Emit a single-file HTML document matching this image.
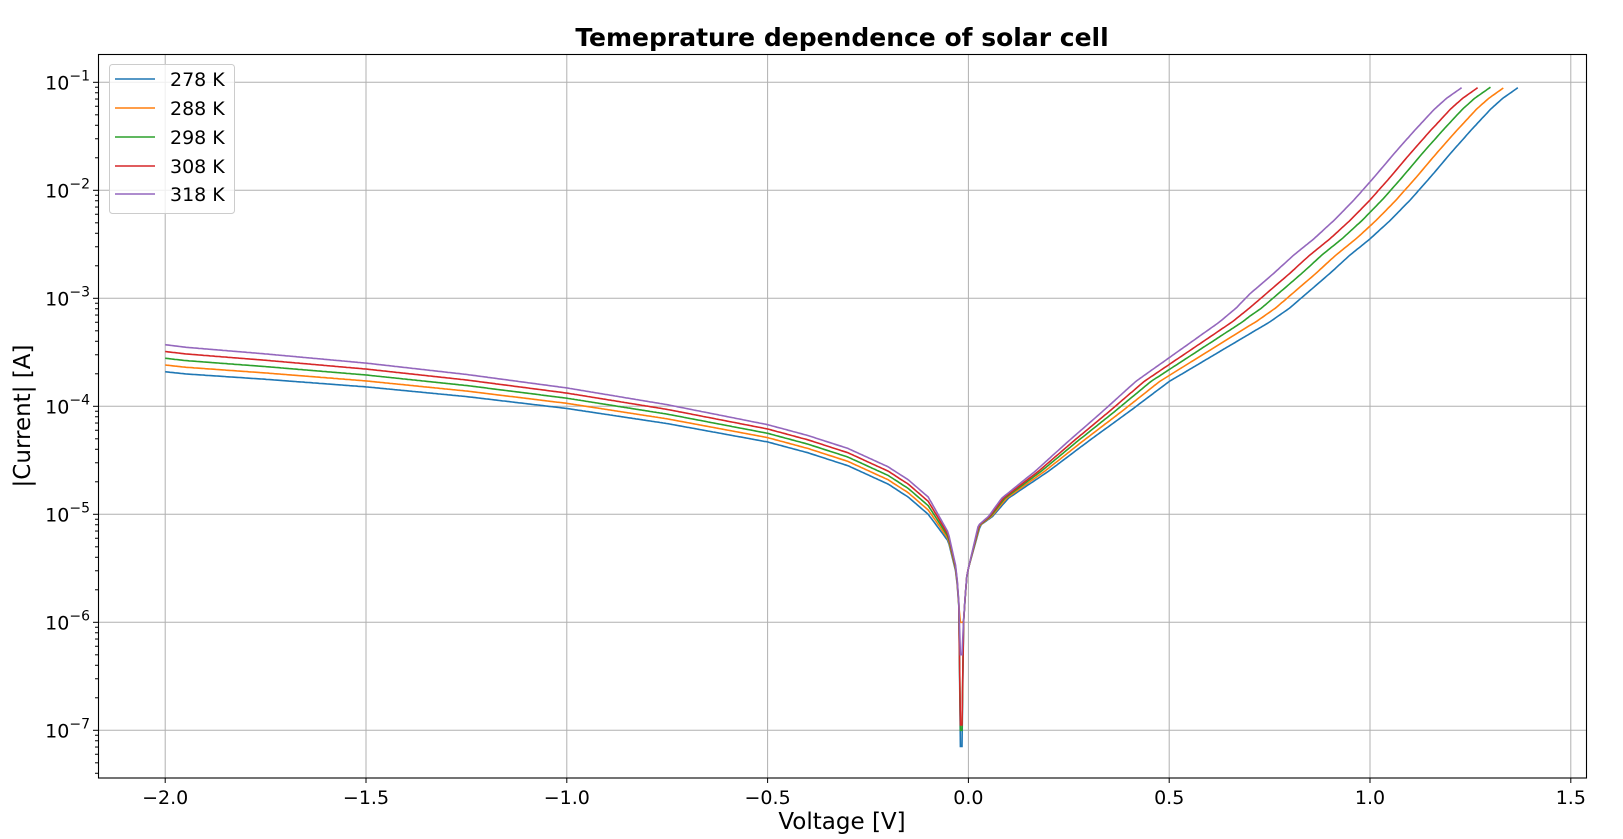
<!DOCTYPE html>
<html><head><meta charset="utf-8"><style>
html,body{margin:0;padding:0;background:#fff}
svg{display:block;font-family:"DejaVu Sans","Liberation Sans",sans-serif}
</style></head><body>
<svg id="s" width="1623" height="839" xmlns="http://www.w3.org/2000/svg">
<rect width="1623" height="839" fill="#fff"/>
<g id="grid" stroke="#b0b0b0" stroke-width="1"></g>
<g id="lines" fill="none" stroke-width="1.6"></g>
<rect x="98.5" y="54.5" width="1488" height="723.5" fill="none" stroke="#000" stroke-width="1.1"/>
<g id="ticks" stroke="#000" stroke-width="1"></g>
<g id="labels" font-size="19" fill="#000"></g>
<text x="842" y="46" text-anchor="middle" font-size="25" font-weight="bold">Temeprature dependence of solar cell</text>
<text x="842" y="829" text-anchor="middle" font-size="23">Voltage [V]</text>
<text transform="translate(30,416) rotate(-90)" text-anchor="middle" font-size="23">|Current| [A]</text>
<g id="legend"></g>
</svg>
<script>
const X0=968.4,PX=401.6,Y1=82.3,DEC=108;
const xv=v=>X0+v*PX, yl=l=>Y1+(-1-l)*DEC;
const NS="http://www.w3.org/2000/svg";
function el(p,t,a,txt){const e=document.createElementNS(NS,t);for(const k in a)e.setAttribute(k,a[k]);if(txt!==undefined)e.textContent=txt;document.getElementById(p).appendChild(e);return e;}
for(let v=-2;v<=1.5;v+=0.5){const x=xv(v);el("grid","line",{x1:x,x2:x,y1:54,y2:778});el("ticks","line",{x1:x,x2:x,y1:778,y2:783});
el("labels","text",{x:x,y:804,"text-anchor":"middle"},(v<0?"\u2212":"")+Math.abs(v).toFixed(1));}
for(let e=-7;e<=-1;e++){const y=yl(e);el("grid","line",{x1:98.5,x2:1586.5,y1:y,y2:y});el("ticks","line",{x1:93,x2:98.5,y1:y,y2:y});
const t=el("labels","text",{x:90,y:y+7,"text-anchor":"end"},"10");const ts=document.createElementNS(NS,"tspan");ts.setAttribute("dy","-9");ts.setAttribute("font-size","14");ts.textContent="\u2212"+(-e);t.appendChild(ts);}
for(let e=-8;e<=-1;e++){for(let m=2;m<10;m++){const yy=yl(e+Math.log10(m));if(yy>=55&&yy<=777)el("ticks","line",{x1:95,x2:98.5,y1:yy,y2:yy});}}
const P=[[-2,-3.68],[-1.95,-3.70],[-1.75,-3.75],[-1.5,-3.82],[-1.25,-3.91],[-1,-4.02],[-0.75,-4.16],[-0.5,-4.33],[-0.4,-4.43],[-0.3,-4.55],[-0.2,-4.72],[-0.15,-4.84],[-0.1,-5.0],[-0.05,-5.25],[-0.03,-5.55],[-0.022,-5.95],[-0.018,-7.15],[-0.012,-6.0],[-0.005,-5.6],[0,-5.5],[0.03,-5.1],[0.06,-5.02],[0.1,-4.85],[0.2,-4.6],[0.3,-4.32],[0.4,-4.05],[0.5,-3.77],[0.6,-3.55],[0.7,-3.33],[0.75,-3.22],[0.8,-3.09],[0.85,-2.93],[0.9,-2.77],[0.95,-2.6],[1.0,-2.45],[1.05,-2.28],[1.1,-2.09],[1.15,-1.88],[1.2,-1.66],[1.25,-1.45],[1.3,-1.25],[1.33,-1.15],[1.37,-1.045]];
function f(v){for(let i=0;i<P.length-1;i++){if(v<=P[i+1][0]){const t=(v-P[i][0])/(P[i+1][0]-P[i][0]);return P[i][1]+t*(P[i+1][1]-P[i][1]);}}return P[P.length-1][1];}
const cols=["#1f77b4","#ff7f0e","#2ca02c","#d62728","#9467bd"],ends=[1.37,1.335,1.30,1.27,1.23];
const dips=[-7.15,-6.0,-7.0,-6.95,-6.3];
cols.forEach((c,k)=>{let pts=[];const end=ends[k];const sh=1.37-end;
for(let v=-2;v<=end+1e-9;v+=0.004){let l;
if(v<0){let off=v<-0.5?0.16+0.09*(-v-0.5)/1.5:0.16*Math.min(1,-v/0.1);l=f(v)+off*k/4;}
else{l=f(v+sh*Math.min(1,v/0.7));}
if(v<=-0.014&&v>-0.022)l=dips[k];
pts.push(xv(v).toFixed(1)+","+yl(l).toFixed(1));}
el("lines","polyline",{points:pts.join(" "),stroke:c});});
el("legend","rect",{x:109.5,y:64.5,width:125,height:149,rx:3,fill:"#fff","fill-opacity":0.8,stroke:"#ccc"});
["278 K","288 K","298 K","308 K","318 K"].forEach((t,i)=>{const y=[79,108,137,166,194][i];
el("legend","line",{x1:115,x2:155,y1:y,y2:y,stroke:cols[i],"stroke-width":1.6});
el("legend","text",{x:170,y:y+7,"font-size":19},t);});
</script>
</body></html>
